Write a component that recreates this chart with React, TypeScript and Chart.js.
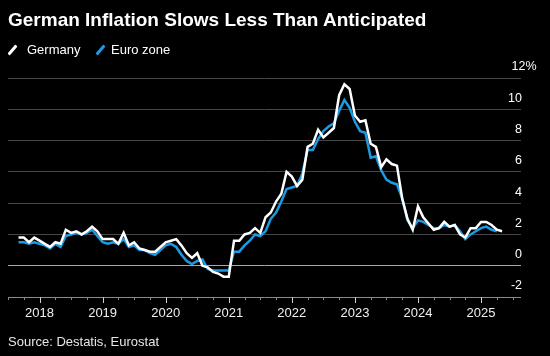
import React, { useEffect, useRef } from "react";
import { Chart, registerables } from "chart.js";

Chart.register(...registerables);

// Monthly data, first month Aug 2017
const firstMonth = "2017-08";
const germany = [
  1.8, 1.8, 1.5, 1.8, 1.6,
  1.4, 1.2, 1.5, 1.4, 2.3, 2.1, 2.2, 2.0, 2.2, 2.5, 2.2, 1.7,
  1.7, 1.7, 1.4, 2.1, 1.3, 1.5, 1.1, 1.0, 0.9, 0.9, 1.2, 1.5,
  1.6, 1.7, 1.3, 0.8, 0.5, 0.8, 0.0, -0.1, -0.4, -0.5, -0.7, -0.7,
  1.6, 1.6, 2.0, 2.1, 2.4, 2.1, 3.1, 3.4, 4.1, 4.6, 6.0, 5.7,
  5.1, 5.5, 7.6, 7.8, 8.7, 8.2, 8.5, 8.8, 10.9, 11.6, 11.3, 9.6,
  9.2, 9.3, 7.8, 7.6, 6.3, 6.8, 6.5, 6.4, 4.3, 3.0, 2.3, 3.8,
  3.1, 2.7, 2.3, 2.4, 2.8, 2.5, 2.6, 2.0, 1.8, 2.4, 2.4, 2.8,
  2.8, 2.6, 2.3, 2.2,
];
const euroZone = [
  1.5, 1.5, 1.4, 1.5, 1.4,
  1.3, 1.1, 1.4, 1.2, 1.9, 2.0, 2.1, 2.0, 2.1, 2.3, 1.9, 1.5,
  1.4, 1.5, 1.4, 1.7, 1.2, 1.3, 1.0, 1.0, 0.8, 0.7, 1.0, 1.3,
  1.4, 1.2, 0.7, 0.3, 0.1, 0.3, 0.4, -0.2, -0.3, -0.3, -0.3, -0.3,
  0.9, 0.9, 1.3, 1.6, 2.0, 1.9, 2.2, 3.0, 3.4, 4.1, 4.9, 5.0,
  5.1, 5.9, 7.4, 7.4, 8.1, 8.6, 8.9, 9.1, 9.9, 10.6, 10.1, 9.2,
  8.6, 8.5, 6.9, 7.0, 6.1, 5.5, 5.3, 5.2, 4.3, 2.9, 2.4, 2.9,
  2.8, 2.6, 2.4, 2.4, 2.6, 2.5, 2.6, 2.2, 1.7, 2.0, 2.2, 2.4,
  2.5, 2.3, 2.2,
];
const yTickValues = [-2, 0, 2, 4, 6, 8, 10, 12];
const yearLabels = ["2018", "2019", "2020", "2021", "2022", "2023", "2024", "2025"];

// month index: Jan 2018 -> 1 (end of month), tick for year Y at (Y-2018)*12
function monthToX(label: string, offset: number): number {
  const [y, m] = label.split("-").map(Number);
  return (y - 2018) * 12 + m + offset;
}
function toPoints(values: number[]) {
  return values.map((v, i) => ({ x: monthToX(firstMonth, i), y: v }));
}

const FONT = "'Liberation Sans', Arial, sans-serif";

const overlayPlugin = {
  id: "overlay",
  afterDraw(chart: any) {
    const ctx = chart.ctx;
    const xs = chart.scales.x;
    const ys = chart.scales.y;
    ctx.save();
    // y labels above gridlines
    ctx.fillStyle = "#ffffff";
    ctx.font = `12.5px ${FONT}`;
    ctx.textBaseline = "middle";
    yTickValues.forEach((v) => {
      const py = ys.getPixelForValue(v) - 11;
      if (v === 12) {
        ctx.textAlign = "left";
        ctx.fillText("12%", 511.5, py);
      } else {
        ctx.textAlign = "right";
        ctx.fillText(String(v), 522, py);
      }
    });
    // x axis ticks
    const baseY = ys.getPixelForValue(-2);
    for (let m = -6; m <= 91; m += 3) {
      const px = Math.round(xs.getPixelForValue(m)) + 0.5;
      const major = m % 12 === 0;
      ctx.strokeStyle = major ? "#d0d0d0" : "#8a8a8a";
      ctx.lineWidth = 1;
      ctx.beginPath();
      ctx.moveTo(px, baseY);
      ctx.lineTo(px, baseY + (major ? 6 : 3));
      ctx.stroke();
    }
    ctx.fillStyle = "#f0f0f0";
    ctx.font = `13px ${FONT}`;
    ctx.textAlign = "center";
    ctx.textBaseline = "middle";
    yearLabels.forEach((lab) => {
      const m = (Number(lab) - 2018) * 12;
      ctx.fillText(lab, xs.getPixelForValue(m), 313.5);
    });
    ctx.restore();
  },
};

export default function App() {
  const ref = useRef<HTMLCanvasElement | null>(null);
  useEffect(() => {
    if (!ref.current) return;
    const chart = new Chart(ref.current, {
      type: "line",
      data: {
        datasets: [
          {
            label: "Germany",
            data: toPoints(germany),
            borderColor: "#ffffff",
            borderWidth: 2.5,
            pointRadius: 0,
            tension: 0,
          },
          {
            label: "Euro zone",
            data: toPoints(euroZone),
            borderColor: "#1a9be3",
            borderWidth: 2.5,
            pointRadius: 0,
            tension: 0,
          },
        ],
      },
      options: {
        animation: false,
        responsive: false,
        devicePixelRatio: 1,
        layout: { padding: { left: 8, right: 29, top: 78, bottom: 59 } },
        plugins: { legend: { display: false }, tooltip: { enabled: false }, title: { display: false } },
        scales: {
          x: {
            type: "linear",
            min: -6,
            max: 91.6,
            grid: { display: false, drawTicks: false },
            border: { display: false },
            ticks: { display: false },
          },
          y: {
            min: -2,
            max: 12,
            ticks: { display: false, stepSize: 2 },
            border: { display: false },
            grid: {
              drawTicks: false,
              lineWidth: 1,
              color: (c: any) => {
                const v = c.tick ? c.tick.value : null;
                if (v === 0) return "#a8a8a8";
                if (v === -2) return "#8a8a8a";
                return "#474747";
              },
            },
          },
        },
      },
      plugins: [overlayPlugin],
    });
    return () => chart.destroy();
  }, []);

  const slash = (color: string, left: number) => (
    <div
      style={{
        position: "absolute",
        left,
        top: 44,
        width: 3,
        height: 12,
        background: color,
        transform: "rotate(40deg)",
        borderRadius: 1,
      }}
    />
  );

  return (
    <div
      style={{
        position: "fixed",
        left: 0,
        top: 0,
        width: 550,
        height: 356,
        background: "#000",
        overflow: "hidden",
        fontFamily: FONT,
      }}
    >
      <canvas ref={ref} width={550} height={356} style={{ position: "absolute", left: 0, top: 0 }} />
      <div
        style={{
          position: "absolute",
          left: 8,
          top: 10,
          fontSize: 19,
          lineHeight: "19px",
          fontWeight: "bold",
          color: "#fff",
          whiteSpace: "nowrap",
        }}
      >
        German Inflation Slows Less Than Anticipated
      </div>
      {slash("#ffffff", 11)}
      <div style={{ position: "absolute", left: 27, top: 43, fontSize: 13, lineHeight: "13px", color: "#fff" }}>
        Germany
      </div>
      {slash("#1a9be3", 99)}
      <div style={{ position: "absolute", left: 111, top: 43, fontSize: 13, lineHeight: "13px", color: "#fff" }}>
        Euro zone
      </div>
      <div
        style={{
          position: "absolute",
          left: 8,
          top: 335,
          fontSize: 13,
          lineHeight: "13px",
          color: "#e6e6e6",
          whiteSpace: "nowrap",
        }}
      >
        Source: Destatis, Eurostat
      </div>
    </div>
  );
}
